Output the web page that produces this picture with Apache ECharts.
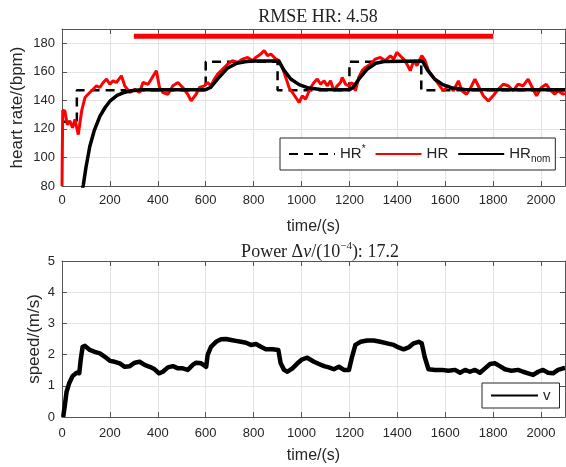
<!DOCTYPE html>
<html>
<head>
<meta charset="utf-8">
<script src="https://cdn.jsdelivr.net/npm/echarts@6/dist/echarts.min.js"></script>
<style>
html,body{margin:0;padding:0;background:#fff;}
#c{width:566px;height:467px;}
</style>
</head>
<body>
<div id="c"></div>
<script>
// ---- data ----
const xTicks = [0, 200, 400, 600, 800, 1000, 1200, 1400, 1600, 1800, 2000];
const hrRef = [[0,125],[62,125],[62,147],[600,147],[600,167],[900,167],[900,147],[1200,147],[1200,167],[1500,167],[1500,147],[2100,147]];
const hrMeasured = [[0,80],[3,133],[12,132.6],[22,123],[33,125.5],[44,120.8],[54,126.7],[68,116],[82,132.6],[96,142],[116,145.5],[130,147.8],[144,150.2],[158,149],[172,152.5],[186,154.9],[200,151.3],[213,153.7],[227,152.5],[248,157.2],[262,150.2],[283,145.5],[304,147.8],[324,145.5],[338,152.5],[359,151.3],[373,154.9],[394,160.8],[407,149],[421,145.5],[442,144.3],[463,150.2],[484,152.5],[504,149],[525,144.3],[539,139.6],[560,144.3],[574,149],[595,150.2],[608,152.5],[622,150.2],[636,154.9],[650,158.4],[671,161.9],[692,165.4],[712,167.8],[733,166.6],[754,168.9],[775,170.1],[796,167.8],[809,170.1],[830,172.5],[844,174.9],[858,171.3],[872,172.5],[893,168.9],[906,167.8],[920,163.1],[934,156.1],[948,149],[962,145.5],[976,142],[990,138.5],[1003,143.2],[1017,140.8],[1038,149],[1052,152.5],[1066,154.9],[1080,151.3],[1094,153.7],[1107,150.2],[1121,153.7],[1135,146.7],[1149,150.2],[1163,152.5],[1170,156.1],[1184,151.3],[1198,150.2],[1211,152.5],[1225,146.7],[1239,156.1],[1253,160.8],[1267,163.1],[1288,165.4],[1308,168.9],[1329,170.1],[1350,167.8],[1371,171.3],[1385,168.9],[1398,173.7],[1412,171.3],[1426,168.9],[1440,165.4],[1454,160.8],[1468,167.8],[1482,164.3],[1502,171.3],[1516,167.8],[1530,160.8],[1551,156.1],[1572,151.3],[1592,146.7],[1613,150.2],[1634,146.7],[1655,153.7],[1669,146.7],[1689,144.3],[1703,147.8],[1724,154.9],[1745,147.8],[1759,143.2],[1780,139.6],[1800,143.2],[1821,147.8],[1842,151.3],[1863,150.2],[1884,146.7],[1904,151.3],[1925,150.2],[1946,154.9],[1967,147.8],[1981,143.2],[2001,149],[2022,151.3],[2036,147.8],[2057,144.3],[2071,146.7],[2092,144.3],[2100,145]];
const hrNominal = [[75,70],[89,80.7],[100,93],[116,107.7],[135,119],[158,128.8],[180,135],[200,139.4],[230,143.5],[255,145.3],[290,146.8],[330,147.5],[600,147.5],[620,149],[650,155],[690,162.5],[730,166],[770,167.2],[810,167.5],[905,167.5],[927,161],[955,155],[990,151],[1030,148.6],[1080,147.6],[1200,147.5],[1215,149],[1240,155],[1275,162],[1310,166],[1350,167.3],[1505,167.5],[1527,161],[1555,155],[1590,151],[1630,148.6],[1680,147.6],[2100,147.5]];
const rmseBar = [[300,185],[1800,185]];
const speed = [[5,0],[12,0.38],[19,0.81],[30,1.08],[44,1.31],[61,1.42],[72,1.40],[78,1.83],[86,2.25],[96,2.28],[116,2.15],[137,2.09],[158,2.04],[179,1.93],[200,1.80],[220,1.77],[241,1.72],[262,1.61],[283,1.63],[304,1.74],[324,1.77],[345,1.67],[366,1.61],[387,1.53],[405,1.40],[421,1.45],[442,1.59],[463,1.63],[484,1.56],[504,1.56],[525,1.51],[546,1.67],[560,1.74],[581,1.72],[602,1.61],[608,1.99],[622,2.25],[643,2.41],[664,2.49],[685,2.50],[706,2.47],[726,2.44],[747,2.41],[768,2.38],[789,2.31],[810,2.34],[830,2.25],[851,2.17],[879,2.17],[903,2.15],[913,1.72],[927,1.51],[941,1.45],[962,1.56],[983,1.72],[1003,1.85],[1024,1.90],[1031,1.93],[1052,1.77],[1073,1.70],[1094,1.63],[1114,1.59],[1135,1.53],[1156,1.61],[1177,1.51],[1198,1.51],[1211,1.93],[1225,2.31],[1246,2.41],[1274,2.45],[1301,2.45],[1329,2.41],[1357,2.36],[1385,2.31],[1405,2.23],[1426,2.17],[1447,2.23],[1468,2.36],[1489,2.41],[1502,2.36],[1514,1.93],[1530,1.53],[1558,1.51],[1586,1.51],[1613,1.48],[1641,1.51],[1662,1.42],[1683,1.51],[1703,1.45],[1724,1.51],[1745,1.42],[1766,1.56],[1787,1.70],[1807,1.72],[1828,1.63],[1849,1.53],[1877,1.48],[1904,1.51],[1925,1.45],[1946,1.40],[1967,1.35],[1988,1.45],[2008,1.51],[2029,1.42],[2050,1.40],[2071,1.51],[2092,1.56],[2100,1.57]];

// ---- chart ----
const SANS = '"Liberation Sans", Arial, sans-serif';
const SERIF = '"Liberation Serif", "Times New Roman", serif';
const AX = '#555';
const chart = echarts.init(document.getElementById('c'), null, {renderer: 'canvas'});

function xAxisDef(grid, pos, main) {
  return {
    type: 'value', gridIndex: grid, position: pos, min: 0, max: 2100, interval: 200,
    name: main ? 'time/(s)' : '', nameLocation: 'middle', nameGap: grid === 0 ? 33 : 31,
    nameMoveOverlap: false,
    nameTextStyle: {fontFamily: SANS, fontSize: 16, color: '#262626'},
    axisLine: {show: true, onZero: false, lineStyle: {color: AX, width: 1}},
    axisTick: {show: true, inside: true, length: 5, lineStyle: {color: AX}},
    axisLabel: {show: main, showMaxLabel: false, margin: grid === 0 ? 8 : 10,
      formatter: function (v) { return xTicks.indexOf(v) >= 0 ? String(v) : ''; },
      fontFamily: SANS, fontSize: 13, color: '#262626'},
    splitLine: {show: main, lineStyle: {color: '#e3e3e3', width: 1}}
  };
}
function yAxisDef(grid, pos, main, min, max, interval, name, gap) {
  return {
    type: 'value', gridIndex: grid, position: pos, min: min, max: max, interval: interval,
    name: main ? name : '', nameLocation: 'middle', nameGap: gap,
    nameMoveOverlap: false,
    nameTextStyle: {fontFamily: SANS, fontSize: 17, color: '#262626'},
    axisLine: {show: true, onZero: false, lineStyle: {color: AX, width: 1}},
    axisTick: {show: true, inside: true, length: 5, lineStyle: {color: AX}},
    axisLabel: {show: main, showMaxLabel: grid === 1, margin: 7,
      formatter: function (v) { return String(v); },
      fontFamily: SANS, fontSize: 13, color: '#262626'},
    splitLine: {show: main, lineStyle: {color: '#e3e3e3', width: 1}}
  };
}

const option = {
  animation: false,
  backgroundColor: '#fff',
  title: [
    {text: 'RMSE HR: 4.58', left: 313, top: 3, textAlign: 'center',
     textStyle: {fontFamily: SERIF, fontSize: 18, fontWeight: 'normal', color: '#222'}},
    {text: 'Power Δ{it|v}/(10{sup|−4}): 17.2', left: 315, top: 236, textAlign: 'center',
     textStyle: {fontFamily: SERIF, fontSize: 18, fontWeight: 'normal', color: '#222',
       rich: {it: {fontFamily: SERIF, fontSize: 18, fontStyle: 'italic', color: '#222'},
              sup: {fontFamily: SERIF, fontSize: 11, verticalAlign: 'top', color: '#222', lineHeight: 22}}}}
  ],
  grid: [
    {left: 62, top: 29, width: 503, height: 157, outerBoundsMode: 'none', containLabel: false},
    {left: 62, top: 261, width: 503, height: 156, outerBoundsMode: 'none', containLabel: false}
  ],
  xAxis: [xAxisDef(0, 'bottom', true), xAxisDef(0, 'top', false), xAxisDef(1, 'bottom', true), xAxisDef(1, 'top', false)],
  yAxis: [
    yAxisDef(0, 'left', true, 80, 190, 20, 'heart rate/(bpm)', 36),
    yAxisDef(0, 'right', false, 80, 190, 20, '', 0),
    yAxisDef(1, 'left', true, 0, 5, 1, 'speed/(m/s)', 19),
    yAxisDef(1, 'right', false, 0, 5, 1, '', 0)
  ],
  legend: [
    {data: ['HR*', 'HR', 'HR_nom'], left: 280, top: 138, orient: 'horizontal',
     backgroundColor: '#fff', borderColor: '#262626', borderWidth: 1, borderRadius: 0,
     padding: [6, 5, 6, 8], itemGap: 9, itemWidth: 46, itemHeight: 14,
     itemStyle: {opacity: 0},
     formatter: function (n) { return n === 'HR*' ? 'HR{sup|*}' : (n === 'HR_nom' ? 'HR{sub|nom}' : 'HR'); },
     textStyle: {fontFamily: SANS, fontSize: 15, color: '#222', lineHeight: 20,
       rich: {sup: {fontFamily: SANS, fontSize: 10, verticalAlign: 'top', lineHeight: 20, color: '#222'},
              sub: {fontFamily: SANS, fontSize: 10, verticalAlign: 'bottom', lineHeight: 20, color: '#222'}}}},
    {data: ['v'], left: 482, top: 383, orient: 'horizontal',
     backgroundColor: '#fff', borderColor: '#262626', borderWidth: 1, borderRadius: 0,
     padding: [5, 9, 5, 8], itemWidth: 47, itemHeight: 14,
     itemStyle: {opacity: 0},
     textStyle: {fontFamily: SANS, fontSize: 15, color: '#222'}}
  ],
  series: [
    {name: 'RMSE', type: 'line', xAxisIndex: 0, yAxisIndex: 0, data: rmseBar, symbol: 'none',
     itemStyle: {color: '#ff0000'}, lineStyle: {color: '#ff0000', width: 5, cap: 'butt'}, z: 3},
    {name: 'HR*', type: 'line', xAxisIndex: 0, yAxisIndex: 0, data: hrRef, symbol: 'none',
     itemStyle: {color: '#000'}, lineStyle: {color: '#000', width: 2.5, type: [9, 6]}, z: 2},
    {name: 'HR', type: 'line', xAxisIndex: 0, yAxisIndex: 0, data: hrMeasured, symbol: 'none',
     itemStyle: {color: '#ff0000'}, lineStyle: {color: '#ff0000', width: 3}, z: 3},
    {name: 'HR_nom', type: 'line', xAxisIndex: 0, yAxisIndex: 0, data: hrNominal, symbol: 'none',
     itemStyle: {color: '#000'}, lineStyle: {color: '#000', width: 3.5}, z: 4, clip: true},
    {name: 'v', type: 'line', xAxisIndex: 2, yAxisIndex: 2, data: speed, symbol: 'none',
     itemStyle: {color: '#000'}, lineStyle: {color: '#000', width: 4.5, join: 'round'}, z: 4}
  ]
};
chart.setOption(option);
</script>
</body>
</html>
